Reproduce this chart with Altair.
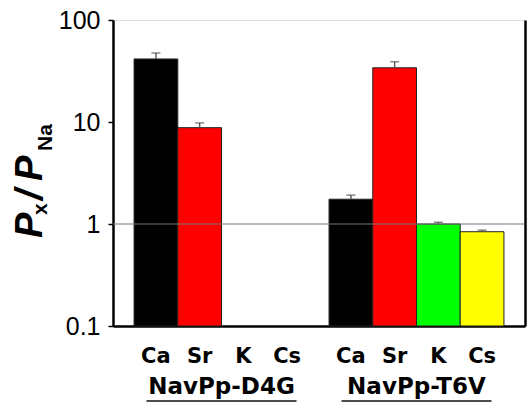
import altair as alt
import pandas as pd

ions = ["Ca", "Sr", "K", "Cs"]
groups = ["NavPp-D4G", "NavPp-T6V"]
ion_colors = ["#000000", "#ff0000", "#00ff00", "#ffff00"]

d4g_ions = ["Ca", "Sr"]
d4g_vals = [41.5, 8.8]
d4g_err = [6.0, 1.0]

t6v_ions = ["Ca", "Sr", "K", "Cs"]
t6v_vals = [1.75, 34.0, 1.0, 0.84]
t6v_err = [0.17, 5.0, 0.04, 0.03]

y_ticks = [0.1, 1, 10, 100]

rows = []
for ion, v, e in zip(d4g_ions, d4g_vals, d4g_err):
    rows.append({"group": groups[0], "ion": ion, "val": v, "top": v + e})
for ion, v, e in zip(t6v_ions, t6v_vals, t6v_err):
    rows.append({"group": groups[1], "ion": ion, "val": v, "top": v + e})
df = pd.DataFrame(rows)

label_df = pd.DataFrame([{"group": g, "ion": i} for g in groups for i in ions])
group_df = pd.DataFrame({"group": groups})

W, H = 412, 306

xscale = alt.Scale(domain=groups, paddingInner=0.103, paddingOuter=0.108)
xoscale = alt.Scale(domain=ions, paddingInner=0, paddingOuter=0)
yscale = alt.Scale(type="log", domain=[0.1, 100], nice=False)

X = alt.X("group:N", scale=xscale,
          axis=alt.Axis(labels=False, ticks=False, title=None, domain=True,
                        domainColor="black", domainWidth=2.5, grid=False))
XO = alt.XOffset("ion:N", scale=xoscale)

bars = alt.Chart(df).mark_bar(stroke="#222222", strokeWidth=1).encode(
    x=X,
    xOffset=XO,
    y=alt.Y("val:Q", scale=yscale,
            axis=alt.Axis(values=y_ticks, format="~g", title=None, grid=False,
                          orient="left", domainColor="black", domainWidth=2.5,
                          tickColor="black", tickSize=5, tickWidth=1.5,
                          labelFont="Liberation Sans", labelFontSize=25,
                          labelColor="black", labelPadding=8)),
    y2=alt.Y2(datum=0.1),
    color=alt.Color("ion:N", scale=alt.Scale(domain=ions, range=ion_colors), legend=None),
)

err = alt.Chart(df).mark_rule(color="#555555", strokeWidth=1.4).encode(
    x=X, xOffset=XO,
    y=alt.Y("val:Q", scale=yscale,
            axis=alt.Axis(orient="right", labels=False, ticks=False, title=None,
                          grid=False, domainColor="black", domainWidth=2.5)),
    y2="top:Q",
)

caps = alt.Chart(df).mark_tick(color="#555555", size=9, thickness=1.5).encode(
    x=X, xOffset=XO,
    y=alt.Y("top:Q", scale=yscale, axis=None),
)

one_line = alt.Chart(pd.DataFrame({"v": [1]})).mark_rule(color="#777777", strokeWidth=1.2).encode(
    y=alt.Y("v:Q", scale=yscale, axis=None),
)

ion_labels = alt.Chart(label_df).mark_text(
    font="DejaVu Sans", fontWeight="bold", fontSize=21, baseline="alphabetic", color="black"
).encode(x=X, xOffset=XO, y=alt.value(343), text="ion:N")

group_labels = alt.Chart(group_df).mark_text(
    font="DejaVu Sans", fontWeight="bold", fontSize=23, baseline="alphabetic", color="black"
).encode(x=X, y=alt.value(374), text="group:N")

group_underline = alt.Chart(group_df).mark_tick(
    orient="horizontal", size=150, thickness=2, color="black"
).encode(x=X, y=alt.value(381))

def title_piece(txt, px, py, size, style):
    return alt.Chart(alt.Data(values=[{}])).mark_text(
        text=txt, font="Liberation Sans", fontWeight="bold", fontStyle=style,
        fontSize=size, angle=270, align="left", baseline="alphabetic", color="black"
    ).encode(x=alt.value(px), y=alt.value(py))

title_layers = [
    title_piece("P", -71, 218, 38, "italic"),
    title_piece("x", -66, 195, 21, "normal"),
    title_piece("/", -71, 180, 38, "italic"),
    title_piece("P", -71, 161, 38, "italic"),
    title_piece("Na", -61, 131, 21, "normal"),
]

chart = alt.layer(bars, err, caps, one_line, ion_labels, group_labels, group_underline,
                  *title_layers).resolve_axis(
    y="independent"
).properties(
    width=W, height=H,
    autosize=alt.AutoSizeParams(type="none"),
    padding={"left": 113, "top": 20, "right": 2, "bottom": 84},
).configure_view(stroke=None).configure(background="white")

chart.save("out.html", embed_options={"renderer": "svg", "actions": False})
